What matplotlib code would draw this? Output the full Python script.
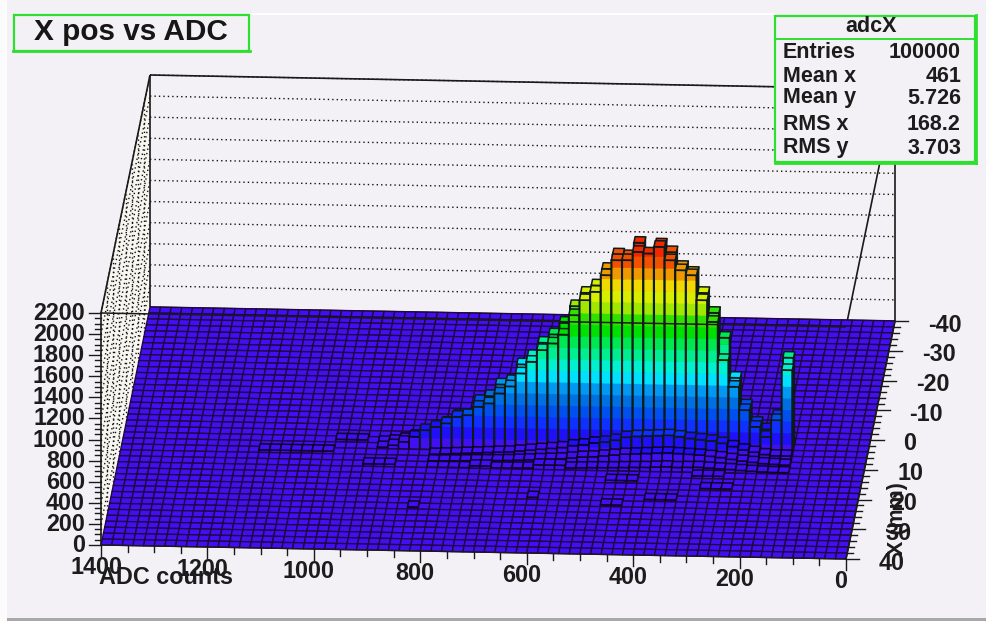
import matplotlib
matplotlib.use("Agg")
import matplotlib.pyplot as plt
import numpy as np
from matplotlib.collections import PolyCollection
from matplotlib.patches import Rectangle

plt.rcParams['font.family'] = ['Liberation Sans', 'DejaVu Sans']

# ---- data -----------------------------------------------------------------
ADC_BIN = 20
Y_BIN = 2
N_X, N_Y = 70, 40
first_bin = 7
ridge_back = [880, 325, 197, 257, 420, 680, 1058, 1292, 1479, 1668, 1722, 1860, 1931, 1834, 1943,
              1814, 1829, 1690, 1531, 1459, 1331, 1171, 1059, 978, 850, 769, 609, 575, 463, 414,
              270, 268, 202, 169, 120, 71, 40, 20, 8]
ridge_front = [819, 342, 182, 275, 432, 651, 903, 1263, 1467, 1702, 1747, 1840, 1965, 1900, 1913,
               1833, 1831, 1687, 1527, 1446, 1302, 1115, 1030, 965, 852, 740, 615, 546, 450, 416,
               335, 317, 253, 218, 185, 120, 70, 35, 15]
ridge_hump = [60, 60, 70, 90, 110, 140, 170, 190, 200, 210, 225, 235, 230, 225, 220, 210, 180, 160,
              150, 130, 120, 100, 90, 80, 70, 60, 50, 45, 40, 35, 30, 25, 20, 15]
ridge_low1 = [30, 35, 40, 50, 60, 75, 90, 100, 110, 115, 120, 125, 120, 115, 110, 105, 95, 85, 75,
              70, 60, 50, 45, 40, 35, 30, 25, 22, 20, 18, 15, 12, 10, 8]
ridge_low2 = [15, 15, 18, 22, 28, 35, 40, 45, 50, 48, 45, 50, 45, 40, 38, 35, 32, 30, 28, 25, 22,
              20, 18, 16, 14, 12, 10, 9, 8, 7, 6, 5, 4, 3]
ridge_rows = {21: ridge_back, 22: ridge_front, 23: ridge_hump, 24: ridge_low1, 25: ridge_low2}
# (first x bin, last x bin, y bin, counts)
stray_runs = [(50, 56, 23, 25), (28, 30, 25, 45), (21, 23, 27, 25), (17, 19, 30, 20), (22, 23, 31, 18),
              (13, 15, 26, 25), (12, 14, 28, 20), (35, 36, 25, 25), (44, 46, 25, 25), (47, 49, 21, 25),
              (41, 41, 32, 20), (30, 30, 30, 20)]

palette = ['#4010f0', '#2010f8', '#1030ff', '#0050f0', '#0070e0', '#0098f0', '#00e0ff', '#00f0d0',
           '#00ee90', '#00e850', '#00e000', '#30e000', '#a0e800', '#d8ee00', '#f0d800', '#f09800',
           '#f05000', '#f02800', '#e81000', '#e00000']
BAND = 110

x_ticks = [1400, 1200, 1000, 800, 600, 400, 200, 0]
y_ticks = [-40, -30, -20, -10, 0, 10, 20, 30, 40]
z_ticks = list(range(0, 2201, 200))
stats = [("Entries", "100000"), ("Mean x", "461"), ("Mean y", "5.726"), ("RMS x", "168.2"), ("RMS y", "3.703")]
stat_y = [52, 76, 98, 125, 148]

# ---- oblique projection of the ROOT lego box onto the figure -----------------
def proj(x, y, z):
    d = 40.0 - y
    px = 846.0 - 745.0 / 1400.0 * x + 49.0 / 80.0 * d
    py = 559.0 - 14.0 / 1400.0 * x - 238.0 / 80.0 * d - 232.0 / 2200.0 * z
    return (px, py)

counts = np.zeros((N_Y, N_X))
for iy, row in ridge_rows.items():
    counts[iy, first_bin:first_bin + len(row)] = row
for i0, i1, iy, c in stray_runs:
    counts[iy, i0:i1 + 1] = np.maximum(counts[iy, i0:i1 + 1], c)

BG = '#f3f1f6'
fig = plt.figure(figsize=(9.86, 6.21), dpi=100, facecolor=BG)
ax = fig.add_axes([0, 0, 1, 1])
ax.set_xlim(0, 986)
ax.set_ylim(621, 0)
ax.axis('off')

# canvas frame
ax.add_patch(Rectangle((0, 0), 7, 621, fc='#fbfbfb', ec='none', zorder=0))
ax.add_patch(Rectangle((7, 617.5), 979, 4, fc='#a8a8a8', ec='none', zorder=0))
ax.add_patch(Rectangle((250, 12.5), 525, 2, fc='#ffffff', ec='none', zorder=0))

# ---- walls ---------------------------------------------------------------
LINE = '#1a1a1a'
def seg(a, b, **kw):
    ax.plot([a[0], b[0]], [a[1], b[1]], solid_capstyle='butt', **kw)

wall = [proj(1400, 40, 0), proj(1400, -40, 0), proj(1400, -40, 2200), proj(1400, 40, 2200)]
ax.fill([p[0] for p in wall], [p[1] for p in wall], fc='#f7f6f0', ec='none', zorder=1)
dot = dict(color='#111111', lw=1.0, ls=(0, (1.0, 2.2)), zorder=1.2)
for z in z_ticks[1:]:
    seg(proj(1400, -40, z), proj(0, -40, z), **dot)
    seg(proj(1400, 40, z), proj(1400, -40, z), **dot)
for y in y_ticks[1:-1]:
    seg(proj(1400, y, 0), proj(1400, y, 2200), **dot)

solid = dict(color=LINE, lw=1.2, zorder=1.5)
seg(proj(1400, -40, 2200), proj(0, -40, 2200), **solid)
seg(proj(1400, -40, 0), proj(1400, -40, 2200), **solid)
seg(proj(0, -40, 0), proj(0, -40, 2200), **solid)
seg(proj(1400, 40, 2200), proj(1400, -40, 2200), **solid)
seg(proj(0, 40, 2200), proj(0, -40, 2200), **solid)
seg(proj(1400, 40, 0), proj(1400, 40, 2200), **solid)

# ---- lego bars -----------------------------------------------------------
verts, faces, edges, widths = [], [], [], []
def add(poly, fc, ec, lw):
    verts.append(poly); faces.append(fc); edges.append(ec); widths.append(lw)

GRID = '#22063f'
LOWBAR = '#100024'
BARLINE = '#0c1a1a'
for iy in range(N_Y):
    y0 = -40 + iy * Y_BIN
    y1 = y0 + Y_BIN
    for ix in range(N_X - 1, -1, -1):
        x0 = ix * ADC_BIN
        x1 = x0 + ADC_BIN
        h = counts[iy, ix]
        if h > 0:
            lw = 1.5 if h > 150 else 1.1
            edge = BARLINE if h > 150 else LOWBAR
            add([proj(x0, y1, 0), proj(x0, y0, 0), proj(x0, y0, h), proj(x0, y1, h)], '#100828', edge, 0.6)
            lo = 0.0
            k = 0
            while lo < h:
                hi = min(lo + BAND, h)
                col = palette[min(k, len(palette) - 1)]
                add([proj(x1, y1, lo), proj(x0, y1, lo), proj(x0, y1, hi), proj(x1, y1, hi)], col, col, 0.2)
                lo = hi
                k += 1
            add([proj(x1, y1, 0), proj(x0, y1, 0), proj(x0, y1, h), proj(x1, y1, h)], (0, 0, 0, 0), edge, lw)
        top = palette[min(int(h // BAND), len(palette) - 1)]
        add([proj(x1, y1, h), proj(x0, y1, h), proj(x0, y0, h), proj(x1, y0, h)], top,
            BARLINE if h > 150 else (LOWBAR if h > 0 else GRID), 1.1 if h > 0 else 0.95)

ax.add_collection(PolyCollection(verts, facecolors=faces, edgecolors=edges, linewidths=widths, zorder=2))

seg(proj(1400, 40, 2200), proj(0, 40, 2200), color=LINE, lw=1.1, zorder=3)
seg(proj(1400, 40, 0), proj(0, 40, 0), color=LINE, lw=1.0, zorder=3)
seg(proj(0, 40, 0), proj(0, -40, 0), color=LINE, lw=1.2, zorder=3)
seg(proj(1400, -40, 0), proj(0, -40, 0), color=LINE, lw=1.2, zorder=1.9)

# ---- axes ----------------------------------------------------------------
TICK = dict(color=LINE, lw=1.0, zorder=3)
FS = 16.8
def label(px, py, s, ha='center', fs=FS, **kw):
    ax.text(px, py, s, ha=ha, va='center', fontsize=fs, fontweight='bold', color='#1c1c1c', zorder=5, **kw)

# x axis
for x in range(0, 1401, 50):
    p = proj(x, 40, 0)
    n = 11 if x % 200 == 0 else 6
    ax.plot([p[0], p[0]], [p[1], p[1] + n], **TICK)
for x in x_ticks:
    p = proj(x, 40, 0)
    label(p[0] - 5, p[1] + 22, str(x))
ax.text(166, 578, "ADC counts", ha='center', va='center', fontsize=FS, fontweight='bold', color='#1c1c1c', zorder=6)

# y axis
for y in range(-40, 41, 2):
    p = proj(0, y, 0)
    n = 13 if y % 10 == 0 else 6
    ax.plot([p[0], p[0] + n], [p[1], p[1]], **TICK)
for y in y_ticks:
    p = proj(0, y, 0)
    label(p[0] + 33, p[1] + 4, str(y), ha='left')
ax.text(897, 519, "X (mm)", rotation=90, ha='center', va='center', fontsize=15.5, fontweight='bold',
        color='#1c1c1c', zorder=5)

# z axis
for z in range(0, 2201, 50):
    p = proj(1400, 40, z)
    n = 12 if z % 200 == 0 else 6
    ax.plot([p[0] - n, p[0]], [p[1], p[1]], **TICK)
for z in z_ticks:
    p = proj(1400, 40, z)
    label(85, p[1] + 0.5, str(z), ha='right')

# ---- title and statistics boxes -----------------------------------------
GREEN = '#2fdf2f'
ax.add_patch(Rectangle((13.5, 15), 235.5, 35.5, fc=BG, ec=GREEN, lw=1.6, zorder=6))
ax.plot([13, 250], [51, 51], color=GREEN, lw=2.0, zorder=6)
ax.text(131, 32, "X pos vs ADC", ha='center', va='center', fontsize=21.4, fontweight='bold', color='#161616', zorder=7)

ax.add_patch(Rectangle((775, 15.5), 200, 146.5, fc=BG, ec=GREEN, lw=1.6, zorder=6))
ax.plot([775, 975], [39, 39], color=GREEN, lw=1.4, zorder=6)
ax.plot([775, 976], [162.5, 162.5], color=GREEN, lw=2.0, zorder=6)
ax.plot([975.5, 975.5], [15, 163], color=GREEN, lw=2.0, zorder=6)
ax.text(871, 26, "adcX", ha='center', va='center', fontsize=15.5, fontweight='bold', color='#1c1c1c', zorder=7)
for (name, val), yy in zip(stats, stat_y):
    ax.text(783, yy, name, ha='left', va='center', fontsize=15.5, fontweight='bold', color='#1c1c1c', zorder=7)
    ax.text(961, yy, val, ha='right', va='center', fontsize=15.5, fontweight='bold', color='#1c1c1c', zorder=7)

fig.savefig("out.png", dpi=100, facecolor=BG)
